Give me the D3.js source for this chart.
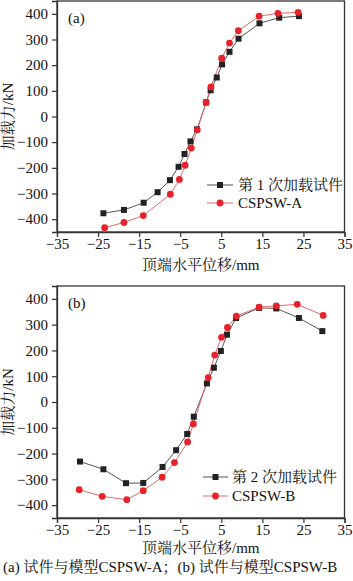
<!DOCTYPE html>
<html><head><meta charset="utf-8">
<script src="https://cdn.jsdelivr.net/npm/d3@7"></script>
<style>body{margin:0;background:#fff}svg{display:block}</style>
</head><body>
<script>
// Panel (a)
const aTestX = [-23.7,-18.7,-13.9,-10.5,-7.5,-5.4,-3.95,-2.5,-0.9,1.3,2.4,3.9,5.2,7.0,9.2,14.3,19.1,23.9];
const aTestY = [-377,-364,-336,-295,-248,-196,-146,-97,-50,55,102,152,203,252,303,363,385,391];
const aModelX = [-23.4,-18.7,-14.0,-7.4,-5.2,-3.8,-2.3,-0.85,1.3,2.5,5.1,7.0,9.15,14.2,18.8,23.7];
const aModelY = [-433,-413,-386,-303,-245,-190,-123,-52,55,115,227,286,334,391,402,406];
// Panel (b)
const bTestX = [-29.4,-23.7,-18.2,-14.0,-9.3,-6.0,-3.3,-1.7,1.5,3.2,4.9,6.4,8.6,14.2,18.4,23.9,29.6];
const bTestY = [-231,-261,-315,-314,-252,-187,-124,-57,72,133,198,261,326,365,363,326,275];
const bModelX = [-29.6,-24.0,-18.0,-14.0,-9.4,-6.4,-3.2,-1.8,1.8,3.4,5.05,6.5,8.66,14.2,18.4,23.5,29.8];
const bModelY = [-340,-366,-379,-344,-292,-235,-155,-85,94,182,251,289,333,368,373,379,336];

const xTicks = [-35,-25,-15,-5,5,15,25,35];
const yTicks = [-400,-300,-200,-100,0,100,200,300,400];
const xTitle = "顶端水平位移/mm";
const yTitle = "加载力/kN";
const caption = "(a) 试件与模型CSPSW-A；(b) 试件与模型CSPSW-B";

const panels = [
  {tag:"(a)", top:1, bottom:232, test:[aTestX,aTestY], model:[aModelX,aModelY],
   legend:["第 1 次加载试件","CSPSW-A"], legY:[185,203], legX0:207, legX1:233, legT:238, xtitleY:270},
  {tag:"(b)", top:286, bottom:518, test:[bTestX,bTestY], model:[bModelX,bModelY],
   legend:["第 2 次加载试件","CSPSW-B"], legY:[477,496], legX0:203, legX1:228, legT:232, xtitleY:553}
];

const W=353,H=581;
const serif = "'Liberation Serif','Times New Roman','Noto Serif CJK SC','Noto Sans CJK SC',serif";
const svg = d3.select("body").append("svg").attr("width",W).attr("height",H)
  .style("font-family",serif);

const L=57,R=344.5;
const fmt = d => d<0 ? "\u2212"+Math.abs(d) : String(d);
const blackLine="#555", blackMark="#222", redLine="#e36a6a", redMark="#e8222b";

panels.forEach(p=>{
  const x = d3.scaleLinear().domain([-35,35]).range([L,R]);
  const y = d3.scaleLinear().domain([-450,450]).range([p.bottom,p.top]);
  const g = svg.append("g");
  // frame
  g.append("rect").attr("x",L).attr("y",p.top).attr("width",R-L).attr("height",p.bottom-p.top)
    .attr("fill","none").attr("stroke","#333").attr("stroke-width",1.3);
  const xa = g.append("g").attr("transform",`translate(0,${p.bottom})`)
    .call(d3.axisBottom(x).tickValues(xTicks).tickSize(5).tickFormat(fmt));
  const ya = g.append("g").attr("transform",`translate(${L},0)`)
    .call(d3.axisLeft(y).tickValues(yTicks).tickSize(5).tickFormat(fmt));
  [xa,ya].forEach(a=>{
    a.attr("font-family",serif);
    a.select(".domain").attr("stroke","#333").attr("stroke-width",1.3);
    a.selectAll(".tick line").attr("stroke","#333").attr("stroke-width",1.2);
    a.selectAll(".tick text").attr("font-family",serif).attr("font-size",15).attr("fill","#111");
  });
  xa.selectAll(".tick text").attr("y",6).attr("dy","0.7em");
  ya.selectAll(".tick text").attr("dx","-1");

  const line = d3.line().x(d=>x(d[0])).y(d=>y(d[1]));
  const test = p.test[0].map((v,i)=>[v,p.test[1][i]]);
  const model = p.model[0].map((v,i)=>[v,p.model[1][i]]);
  g.append("path").datum(test).attr("d",line).attr("fill","none").attr("stroke",blackLine).attr("stroke-width",1);
  g.append("path").datum(model).attr("d",line).attr("fill","none").attr("stroke",redLine).attr("stroke-width",1);
  g.selectAll(".sq").data(test).enter().append("rect")
    .attr("x",d=>x(d[0])-3).attr("y",d=>y(d[1])-3).attr("width",6).attr("height",6).attr("fill",blackMark);
  g.selectAll(".ci").data(model).enter().append("circle")
    .attr("cx",d=>x(d[0])).attr("cy",d=>y(d[1])).attr("r",3.4).attr("fill",redMark);

  // tag
  g.append("text").attr("x",68).attr("y",p.top+22).attr("font-size",15).attr("fill","#111").text(p.tag);

  // legend
  const mx=(p.legX0+p.legX1)/2;
  g.append("line").attr("x1",p.legX0).attr("x2",p.legX1).attr("y1",p.legY[0]).attr("y2",p.legY[0]).attr("stroke",blackLine);
  g.append("rect").attr("x",mx-3).attr("y",p.legY[0]-3).attr("width",6).attr("height",6).attr("fill",blackMark);
  g.append("text").attr("x",p.legT).attr("y",p.legY[0]).attr("dy","0.35em").attr("font-size",15).attr("fill","#111").text(p.legend[0]);
  g.append("line").attr("x1",p.legX0).attr("x2",p.legX1).attr("y1",p.legY[1]).attr("y2",p.legY[1]).attr("stroke",redLine);
  g.append("circle").attr("cx",mx).attr("cy",p.legY[1]).attr("r",3.4).attr("fill",redMark);
  g.append("text").attr("x",p.legT).attr("y",p.legY[1]).attr("dy","0.35em").attr("font-size",15).attr("fill","#111").text(p.legend[1]);

  // axis titles
  g.append("text").attr("x",(L+R)/2).attr("y",p.xtitleY).attr("text-anchor","middle")
    .attr("font-size",15).attr("fill","#111").text(xTitle);
  const cy = y(0);
  g.append("text").attr("transform",`translate(13,${cy}) rotate(-90)`).attr("text-anchor","middle")
    .attr("font-size",15).attr("fill","#111").text(yTitle);
});

svg.append("text").attr("x",3).attr("y",572).attr("font-size",15).attr("fill","#111").text(caption);
</script>
</body></html>
